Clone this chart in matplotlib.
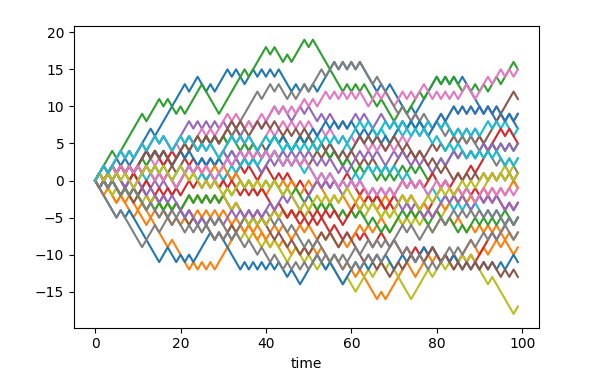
import numpy as np
import matplotlib
matplotlib.use("Agg")
import matplotlib.pyplot as plt

# each walk: 99 steps, '+' = up one, '-' = down one (groups of 10 steps)
blue = [
    "++-++-+-++ +++-++++++ +-++--+-++ +-+--++-+- +-+---+-+- +-++++-+-+ -+----+-+- ---+-+++++ -+-+-+---- -+--+-+--",
    "-----+-+-- -----++--+ -+-++++-+- ----+-+-+- +-+--+--++ ++--+---++ +-+-++-+-- ++-+-++-+- -+-+--+-+- +-+-+-++-",
    "+-++-+-+-+ ++-+-+--++ -+--+-+-+- +-++-+-+-+ ++-+--++-+ +-++-+-+-+ --+-+--+-+ ++-+-+--++ +-++-+-+-+ -+-+--+-+",
]
orange = [
    "-+---+---+ --+----+-- --+-+-+-++ ++++-+-+-- -+-+--+-+- +-+--+--+- -+----+-++ +++--+++-+ -+-+-+++-- +-++-+--+",
    "--+--+-+-- +--+-+--+- ++-+-+-+-+ --+--+--+- ++-+--++-+ --+-+--+-+ ++-+-++--+ +-++-+-+-+ --+-+--+-+ -+-+--+-+",
    "+-++-+-+-+ -+--+-+--+ +-++-+-+-+ --+--+-+-- ++-+-+--++ -+---+-+-- ++-+--++-+ -+--+-+--+ +-++-+-+-+ +-+-+-++-",
]
green = [
    "++++-+++++ +-+++-+--+ -++++----+ +++++-++++ -+--+-+++- +-------+- +-+---+--- ++-+++-+++ -+-+--+-+- +-++-+++-",
    "++-+-+--++ +-++-+--++ ++-+-+-+-+ -+--+-+--+ ++-+--++-+ --+--+--+- -+-+--+-+- ++-+-+--++ +-++-+-+-+ +-+-+-+-+",
    "-+-+--+-+- --+-+-+-+- ++-+-+-+-+ +-++-+--++ -+--+-+--+ --+-+--+-+ -+--+--+-+ ++-+-+--++ --+--+-++- +-+-++--+",
]
red = [
    "-+-+--+-+- +--+-+--+- ++-+-+-+-+ --+--+-+-- ++-+-+--++ --+--+--+- +-+--++--+ --+-+-+-+- -+-+-+-+-+ +++-+++-+",
    "+-++-+-+-+ ++-+--++-+ --+---+--+ +-++-+--++ --+-+--+-- ++-+-+-++- --+--+--+- ++-+--+-++ ++-++-++-+ +++++-+--",
    "+-+-+--++- -+--+-+-+- ++-+-+-+-+ -+--+-+-+- --+--+-+-- ++-+-+--++ +-++-+--++ ++-+-+-++- -+--+-+-+- -+-+--+-+",
]
purple = [
    "++-+++-+-+ +-++-+--++ ++-+-+-+-+ -+--++-+-+ ++-+--++-+ --+-+--+-+ +-+--++--+ -+-++--+-+ -+--+-+-+- --+------",
    "-+-+--+-+- ++-+-+--++ ++-++-+-++ -+--+-+--+ +-++-+-+-+ --+-+--+-+ ++-+-+--++ -+--+-+--+ +-++-+-+-+ +-+-+-+-+",
    "-+-++--+-+ --+--+-+-- -+--+-+-+- ++-+-+-+-+ +-++-+--++ ++-+-+--++ -+--+-+-+- --+-+--+-+ ++-+-+--++ -+-+--+-+",
]
brown = [
    "+-+-+--++- ++-+--++-+ +++-++-+-+ +-+---+-+- -+--+-+-+- ++-+-+--++ --+-+--+-+ ++-+-+-++- +-++-+-+-+ -+++++++-",
    "-+-+--+--+ +--+---++- --+-+---+- ++-++-+-+- --+--+--+- +++-+--++- ---+--+--+ +-++-+-++- -+--+-+-+- +-+--+-+-",
    "+-++-+-+-+ ++-+-+--++ +-++-+-+-+ ++-+--++-+ -+--+-+-+- --+-+--+-+ ++-+-+--++ --+--+--+- -+--+-+-+- +-+-+-+-+",
]
pink = [
    "++-+-+--++ -++-+-+++- ++-++-+-++ +-+--+-++- ++-+-+-++- +-++-+-+-+ -+--++-+-- ++-+-++--+ -+-+-++--+ ++-++-+-+",
    "++-+++-+-+ +-++-+--++ -+--+-+--+ ++-+-+--++ +-++-+-+-+ --+-+--+-+ -+--+-+-+- ++-++-+-++ +-++-+-+-+ -+-+--+-+",
    "+-++-+-+-+ -+--+-+--+ ++-+-+--++ +-++-+-+-+ -+--+-+-+- --+-+--+-+ -+--+-+-+- ++-+-+--++ -+--+-+--+ +-+-+-+-+",
]
gray = [
    "+-++-+-+-+ ++-+-+--++ +-+-++-+-+ -+++++++-+ +-+--+-++- +++-++-+-+ -+---+---- -+--+-+--+ --+--+-+-- -+--+-+--",
    "-----+---- -+++-++-++ -+--+---+- +-+++-+-++ --+--+---+ -+---+-+-- +-++-+-+++ --+--+--+- +++-+-++-+ +-+-++--+",
    "-+-+--+-+- --+--+-+-- -+-+-++-+- --+--+--+- -+--+-+-+- ++-+-+--++ +-++-+-+-+ ++-+--++-+ +-++-+-+-+ -+-+--+-+",
]
olive = [
    "-+--+-+--+ --+-+---+- +-+--++-+- -+--+-+--+ -+---++--+ --+-+---+- -+++-++-+- ----++++-+ +-+-++-+-- --+-----+",
    "-+--+-+-+- -+-+--+-+- ++-+-+-+-+ --+---+-+- ++-+-+-+-+ +-+-+--+-+ -+-++--+-+ --+-+-+--+ ++++-+-+-+ +++-++-++",
    "+-+-+-+--+ ++-+-+--++ --+--+-+-- +-++-+-+-+ -+--+---+- ++-+-+-++- --+-+--+-+ ++-+--++-+ +-+-++-+-+ +-+-+-+-+",
]
cyan = [
    "+-++-+-+-+ --+-+-+--+ ++-++-+-++ -+--+-+--+ ++-++-++-+ -+--+--++- ++-+-++--+ +-++-+-+-+ -+--+-+-+- ++-+-+--+",
    "+-+-+--++- ++-+-+--++ -+--+-+-+- ++-++-+-++ -+--+-+--+ --+-+--+-+ +-++-+-+-+ --+--+--+- -+--+-+-+- -+-+--+-+",
    "++-+++-+-+ +-++-+--++ -+--+-+--+ ++-+-+--++ -+--+-+-+- +-++-+-+-+ ++-+--++-+ -+--+-+--+ --+-+--+-+ -+-+--+-+",
]

colour_groups = [blue, orange, green, red, purple, brown, pink, gray, olive, cyan]


def walk(s):
    s = s.replace(" ", "")
    steps = np.where(np.array(list(s)) == "+", 1, -1)
    return np.concatenate([[0], np.cumsum(steps)])


fig = plt.figure(figsize=(6.08, 3.77), dpi=100)
ax = fig.add_axes([0.1217, 0.1308, 0.7648, 0.8003])

for k in range(3):
    for group in colour_groups:
        y = walk(group[k])
        ax.plot(np.arange(len(y)), y)

ax.set_xlabel("time")
fig.savefig("out.png")
